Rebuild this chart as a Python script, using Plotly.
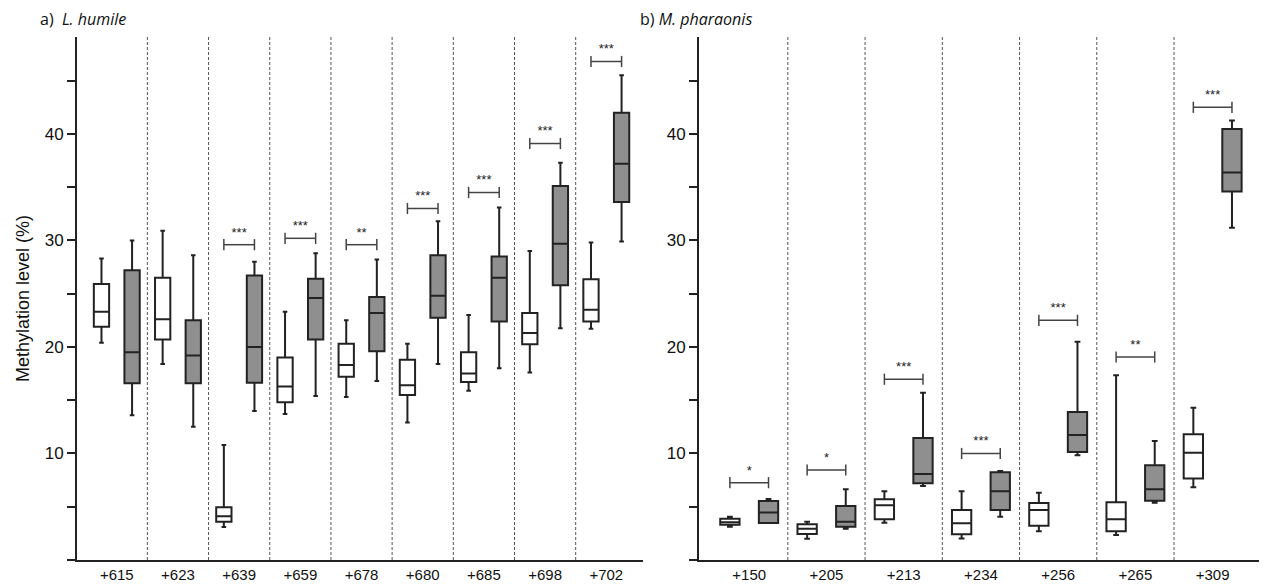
import plotly.graph_objects as go

# ---------------- data ----------------
lh_sites = ["+615", "+623", "+639", "+659", "+678", "+680", "+685", "+698", "+702"]
lh_white_low = [20.4, 18.4, 3.1, 13.7, 15.3, 12.9, 15.9, 17.6, 21.7]
lh_white_q1 = [21.9, 20.7, 3.6, 14.8, 17.2, 15.5, 16.7, 20.25, 22.4]
lh_white_med = [23.3, 22.6, 4.1, 16.3, 18.3, 16.4, 17.5, 21.3, 23.5]
lh_white_q3 = [25.9, 26.5, 4.95, 19.0, 20.3, 18.8, 19.5, 23.2, 26.35]
lh_white_high = [28.3, 30.9, 10.8, 23.3, 22.5, 20.3, 23.0, 29.0, 29.8]
lh_gray_low = [13.6, 12.5, 14.0, 15.4, 16.8, 18.4, 18.0, 21.75, 29.9]
lh_gray_q1 = [16.6, 16.6, 16.65, 20.7, 19.6, 22.75, 22.4, 25.8, 33.6]
lh_gray_med = [19.5, 19.2, 20.0, 24.6, 23.2, 24.8, 26.5, 29.7, 37.2]
lh_gray_q3 = [27.2, 22.5, 26.7, 26.4, 24.7, 28.6, 28.5, 35.1, 42.0]
lh_gray_high = [30.0, 28.6, 28.0, 28.8, 28.2, 31.8, 33.1, 37.3, 45.5]
lh_sig = ["", "", "***", "***", "**", "***", "***", "***", "***"]
lh_bracket = [None, None, 29.6, 30.2, 29.6, 33.0, 34.5, 39.1, 46.8]

mp_sites = ["+150", "+205", "+213", "+234", "+256", "+265", "+309"]
mp_white_low = [3.13, 2.0, 3.5, 2.03, 2.69, 2.35, 6.83]
mp_white_q1 = [3.32, 2.44, 3.82, 2.41, 3.22, 2.69, 7.64]
mp_white_med = [3.54, 2.94, 5.13, 3.44, 4.7, 3.82, 10.08]
mp_white_q3 = [3.88, 3.35, 5.7, 4.7, 5.35, 5.41, 11.8]
mp_white_high = [4.07, 3.6, 6.45, 6.45, 6.32, 17.34, 14.3]
mp_gray_low = [3.47, 2.94, 6.95, 4.07, 9.83, 5.38, 31.2]
mp_gray_q1 = [3.47, 3.13, 7.2, 4.7, 10.14, 5.57, 34.6]
mp_gray_med = [4.47, 3.6, 8.08, 6.45, 11.74, 6.64, 36.37]
mp_gray_q3 = [5.54, 5.07, 11.46, 8.23, 13.9, 8.89, 40.47]
mp_gray_high = [5.73, 6.64, 15.7, 8.36, 20.5, 11.17, 41.25]
mp_sig = ["*", "*", "***", "***", "***", "**", "***"]
mp_bracket = [7.26, 8.45, 16.97, 10.0, 22.5, 19.06, 42.5]

y_major = [10, 20, 30, 40]

# ---------------- style ----------------
W, H = 1264, 585
LINE = "#222222"
GRAY = "#8f8f8f"
OFF = 0.25
BOXW = 0.25
YMAX = 49.1
STAR_LIFT = 0.45
FONT = "Arial, Liberation Sans, sans-serif"

fig = go.Figure()


def add_panel(sites, wl, wq1, wm, wq3, wh, gl, gq1, gm, gq3, gh, sig, br, xa, ya):
    n = len(sites)
    fig.add_trace(go.Box(
        x=[i - OFF for i in range(n)], lowerfence=wl, q1=wq1, median=wm, q3=wq3,
        upperfence=wh, width=BOXW, whiskerwidth=0.3, fillcolor="white",
        line=dict(color=LINE, width=2), xaxis=xa, yaxis=ya, showlegend=False,
        hoverinfo="skip"))
    fig.add_trace(go.Box(
        x=[i + OFF for i in range(n)], lowerfence=gl, q1=gq1, median=gm, q3=gq3,
        upperfence=gh, width=BOXW, whiskerwidth=0.3, fillcolor=GRAY,
        line=dict(color=LINE, width=2), xaxis=xa, yaxis=ya, showlegend=False,
        hoverinfo="skip"))
    bx, by, sx, sy, st = [], [], [], [], []
    for i in range(n):
        if br[i] is None:
            continue
        bx += [i - OFF, i + OFF, None]
        by += [br[i], br[i], None]
        sx.append(i)
        sy.append(br[i] + STAR_LIFT)
        st.append(sig[i])
    fig.add_trace(go.Scatter(
        x=bx, y=by, mode="lines+markers",
        line=dict(color="#444444", width=1.5),
        marker=dict(symbol="line-ns-open", size=8, line=dict(color="#444444", width=1.5)),
        xaxis=xa, yaxis=ya, showlegend=False, hoverinfo="skip"))
    fig.add_trace(go.Scatter(
        x=sx, y=sy, mode="text", text=st, textposition="top center",
        textfont=dict(size=13, color="#222222", family=FONT),
        xaxis=xa, yaxis=ya, showlegend=False, hoverinfo="skip"))
    xref = "x" if xa == "x" else "x2"
    yref = "y" if ya == "y" else "y2"
    for i in range(n - 1):
        fig.add_shape(type="line", xref=xref, yref=yref, x0=i + 0.5, x1=i + 0.5,
                      y0=0, y1=YMAX, line=dict(color="#555555", width=1, dash="3px,2px"),
                      layer="below")


add_panel(lh_sites, lh_white_low, lh_white_q1, lh_white_med, lh_white_q3, lh_white_high,
          lh_gray_low, lh_gray_q1, lh_gray_med, lh_gray_q3, lh_gray_high, lh_sig, lh_bracket,
          "x", "y")
add_panel(mp_sites, mp_white_low, mp_white_q1, mp_white_med, mp_white_q3, mp_white_high,
          mp_gray_low, mp_gray_q1, mp_gray_med, mp_gray_q3, mp_gray_high, mp_sig, mp_bracket,
          "x2", "y2")

ydom = [25 / H, 1 - 37 / H]


def xaxis(sites, dom, anchor):
    n = len(sites)
    return dict(domain=dom, range=[-0.65, n - 1 + 0.6], tickvals=list(range(n)),
                ticktext=sites, showline=True, linecolor=LINE, linewidth=2,
                ticks="", showgrid=False, zeroline=False, anchor=anchor,
                tickfont=dict(size=15, color="#111111", family=FONT))


def yaxis(anchor, title=None):
    d = dict(domain=ydom, range=[0, YMAX], tickvals=y_major, showline=True,
             linecolor=LINE, linewidth=2, ticks="outside", ticklen=8, tickwidth=1.5,
             tickcolor=LINE, showgrid=False, zeroline=False, anchor=anchor,
             minor=dict(tick0=0, dtick=5, ticks="outside", ticklen=8, tickwidth=1.5,
                        tickcolor=LINE, showgrid=False),
             tickfont=dict(size=17, color="#111111", family=FONT))
    if title:
        d["title"] = dict(text=title, font=dict(size=18, color="#111111", family=FONT),
                          standoff=10)
    return d


fig.update_layout(
    width=W, height=H, margin=dict(l=0, r=0, t=0, b=0),
    paper_bgcolor="white", plot_bgcolor="white", boxmode="overlay",
    xaxis=xaxis(lh_sites, [77 / W, 643 / W], "y"),
    xaxis2=xaxis(mp_sites, [699 / W, 1259 / W], "y2"),
    yaxis=yaxis("x", "Methylation level (%)"),
    yaxis2=yaxis("x2"),
    annotations=[
        dict(text="a)  <i>L. humile</i>", xref="paper", yref="paper", x=38 / W,
             y=1 - 6 / H, xanchor="left", yanchor="top", showarrow=False,
             font=dict(size=16, color="#111111", family="Open Sans")),
        dict(text="b) <i>M. pharaonis</i>", xref="paper", yref="paper", x=638 / W,
             y=1 - 6 / H, xanchor="left", yanchor="top", showarrow=False,
             font=dict(size=16, color="#111111", family="Open Sans")),
    ],
)

fig.write_html("out.html")
